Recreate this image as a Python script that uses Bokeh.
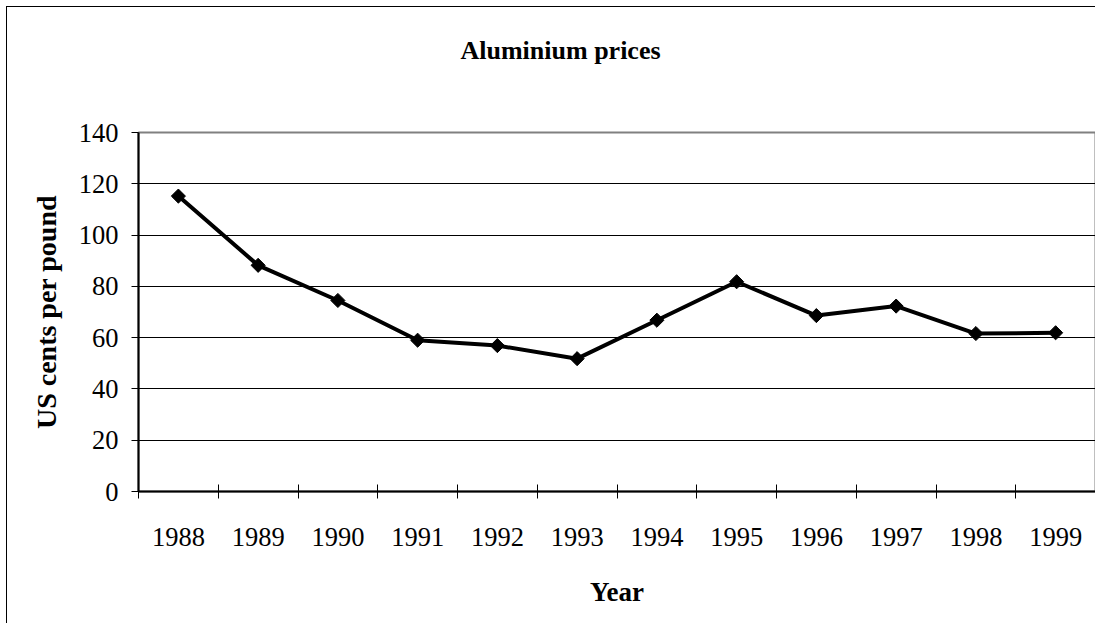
from bokeh.plotting import figure
from bokeh.models import Range1d, FixedTicker, Title
from bokeh.embed import file_html
from bokeh.resources import INLINE
import numpy as np

# ---- data ----
years = ["1988", "1989", "1990", "1991", "1992", "1993",
         "1994", "1995", "1996", "1997", "1998", "1999"]
prices = [115.2, 88.2, 74.5, 59.0, 56.9, 51.8, 66.8, 81.8, 68.6, 72.3, 61.6, 61.9]
y_ticks = [0, 20, 40, 60, 80, 100, 120, 140]
title_text = "Aluminium prices"
x_label = "Year"
y_label = "US cents per pound"

FONT = "Liberation Serif"
n = len(years)
xs = [i + 0.5 for i in range(n)]

p = figure(width=1089, height=617, output_backend="svg", toolbar_location=None,
           x_range=Range1d(0, n), y_range=Range1d(y_ticks[0], y_ticks[-1]),
           min_border_left=131, min_border_right=1, min_border_top=125,
           min_border_bottom=133, title=title_text)
p.styles = {"margin-left": "6px", "margin-top": "6px",
            "border-left": "1px solid #000000", "border-top": "1px solid #000000"}
p.background_fill_color = "white"
p.border_fill_color = "white"
p.outline_line_color = "#808080"
p.outline_line_width = 2

# spacer between title and frame (empty title, closest to the frame)
spacer = Title(text=" ", text_font_size="1px", standoff=60)
p.add_layout(spacer, "above")

# title
p.title.text_font = FONT
p.title.text_font_size = "26px"
p.title.text_font_style = "bold"
p.title.text_color = "black"
p.title.align = "left"
p.title.offset = 322
p.title.standoff = 10

# x axis: labels at category centres, ticks at boundaries (minor ticks)
xa = p.xaxis[0]
xa.ticker = FixedTicker(ticks=xs, minor_ticks=list(range(n + 1)))
xa.major_label_overrides = {x: y for x, y in zip(xs, years)}
xa.major_tick_in = 0
xa.major_tick_out = 0
xa.minor_tick_in = 7
xa.minor_tick_out = 7
xa.minor_tick_line_color = "black"
xa.minor_tick_line_width = 1
xa.axis_line_color = "black"
xa.axis_line_width = 2
xa.major_label_text_font = FONT
xa.major_label_text_font_size = "26.5px"
xa.major_label_text_color = "black"
xa.major_label_standoff = 29
xa.axis_label = x_label
xa.axis_label_text_font = FONT
xa.axis_label_text_font_size = "27px"
xa.axis_label_text_font_style = "bold"
xa.axis_label_text_color = "black"
xa.axis_label_standoff = 28

ya = p.yaxis[0]
ya.ticker = FixedTicker(ticks=y_ticks, minor_ticks=[])
ya.major_tick_in = 0
ya.major_tick_out = 7
ya.major_tick_line_color = "black"
ya.major_tick_line_width = 1
ya.axis_line_color = "black"
ya.axis_line_width = 2
ya.major_label_text_font = FONT
ya.major_label_text_font_size = "26.5px"
ya.major_label_text_color = "black"
ya.major_label_standoff = 13
ya.axis_label = y_label
ya.axis_label_text_font = FONT
ya.axis_label_text_font_size = "28px"
ya.axis_label_text_font_style = "bold"
ya.axis_label_text_color = "black"
ya.axis_label_standoff = 14

p.xgrid.visible = False
p.ygrid.ticker = FixedTicker(ticks=y_ticks[1:-1])
p.ygrid.grid_line_color = "black"
p.ygrid.grid_line_width = 1

p.line(xs, prices, line_color="black", line_width=4)
p.scatter(xs, prices, marker="square", angle=np.pi / 4, size=10,
          fill_color="black", line_color="black")

open("out.html", "w").write(file_html(p, INLINE))
